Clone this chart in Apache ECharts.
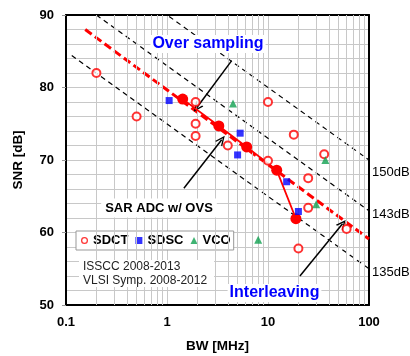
<!DOCTYPE html>
<html><head><meta charset="utf-8">
<script src="https://cdn.jsdelivr.net/npm/echarts@6/dist/echarts.min.js"></script>
<style>html,body{margin:0;padding:0;background:#fff}#c{width:410px;height:356px}</style>
</head><body><div id="c"></div>
<script>
// ---- data ----
const xTickLabels = ['0.1', '1', '10', '100'];
const yTickLabels = [50, 60, 70, 80, 90];
const minorX = [0.2,0.3,0.4,0.5,0.6,0.7,0.8,0.9,2,3,4,5,6,7,8,9,20,30,40,50,60,70,80,90];
const sdct = [[0.2,82],[0.5,76],[1.92,78],[1.92,75],[1.92,73.3],[4.0,72],[10,78],[10,69.9],[18,73.5],[25,67.5],[25,63.4],[36,70.8],[60,60.5],[20,57.8]];
const sdsc = [[1.05,78.2],[5.3,73.7],[5.0,70.7],[15.3,67],[20,62.9]];
const vco = [[4.5,77.8],[37,70],[30,63.9],[8,59]];
const ovs = [[1.43,78.4],[3.26,74.7],[6.15,71.8],[12.2,68.6],[18.9,61.9]];
const trend = [[0.155,88.0],[100,59.1]];
const fom150 = [[1.05,89.8],[100,70]];
const fom143 = [[0.2,90],[100,63]];
const fom135 = [[0.114,84.4],[100,55]];
const fomLabels = ['150dB','143dB','135dB'];
const arrowOver = [[4.37,83.7],[1.97,77.2]];
const arrowSar = [[1.47,66.1],[3.48,72.8]];
const arrowInter = [[20.7,54.0],[54.7,61.2]];
const seriesNames = ['SDCT','SDSC','VCO'];

const FONT = '"Liberation Sans", Arial, sans-serif';
const chart = echarts.init(document.getElementById('c'), null, {renderer:'canvas'});
const gridC = '#c8c8c8';
const chevron = 'path://M5,0 L10,10 L8.4,10 L5,3.2 L1.6,10 L0,10 Z';
const ring = 'path://M5,0 A5,5 0 1,1 4.99,0 Z M5,1.8 A3.2,3.2 0 1,0 5.01,1.8 Z';

function dashLine(data, name){
  return {type:'line', name:name, data:data, showSymbol:false, symbol:'none', silent:true, z:2,
    lineStyle:{color:'#000', width:1.2, type:[5,4]}};
}
function arrow(pts){
  return [{coord:pts[0]},{coord:pts[1]}];
}

chart.setOption({
  animation:false,
  textStyle:{fontFamily:FONT},
  grid:{left:66, right:41, top:15, bottom:51, containLabel:false, outerBoundsMode:'none'},
  xAxis:[{
    type:'log', logBase:10, min:0.1, max:100,
    name:'BW [MHz]', nameLocation:'middle', nameGap:34,
    nameTextStyle:{fontWeight:'bold', fontSize:13.5, color:'#000', fontFamily:FONT},
    axisLine:{show:true, onZero:false, lineStyle:{color:'#000', width:2}},
    axisTick:{show:false},
    axisLabel:{fontWeight:'bold', fontSize:13, color:'#000', margin:11, fontFamily:FONT,
      formatter:function(v){ const i = Math.round(Math.log10(v))+1; return xTickLabels[i]; }},
    splitLine:{show:true, lineStyle:{color:gridC, width:1}}
  },{
    type:'log', logBase:10, min:0.1, max:100, position:'top',
    axisLine:{show:true, onZero:false, lineStyle:{color:'#000', width:2}},
    axisTick:{show:false}, axisLabel:{show:false}, splitLine:{show:false}
  }],
  yAxis:[{
    type:'value', min:yTickLabels[0], max:yTickLabels[yTickLabels.length-1], interval:10,
    name:'SNR [dB]', nameLocation:'middle', nameGap:41, nameRotate:90,
    nameTextStyle:{fontWeight:'bold', fontSize:13.5, color:'#000', fontFamily:FONT},
    axisLine:{show:true, onZero:false, lineStyle:{color:'#000', width:2}},
    axisTick:{show:true, length:4, lineStyle:{color:'#999'}},
    axisLabel:{fontWeight:'bold', fontSize:13, color:'#000', margin:12, fontFamily:FONT},
    splitLine:{show:true, lineStyle:{color:gridC, width:1}},
    minorTick:{show:false, splitNumber:5},
    minorSplitLine:{show:true, lineStyle:{color:gridC, width:1}}
  },{
    type:'value', min:50, max:90, position:'right',
    axisLine:{show:true, onZero:false, lineStyle:{color:'#000', width:2}},
    axisTick:{show:false}, axisLabel:{show:false}, splitLine:{show:false}
  }],
  legend:{
    left:76, top:231, orient:'horizontal',
    backgroundColor:'#fff', borderColor:'#999', borderWidth:1, padding:[3,3,3,5],
    itemWidth:7, itemHeight:7, itemGap:7,
    textStyle:{fontWeight:'bold', fontSize:13, color:'#000', fontFamily:FONT},
    data:[
      {name:seriesNames[0], icon:ring, itemStyle:{color:'#ff0000', borderWidth:0}},
      {name:seriesNames[1], icon:'rect', itemStyle:{color:'#0000ff', borderWidth:0}},
      {name:seriesNames[2], icon:'triangle', itemStyle:{color:'#10a050', borderWidth:0}}]
  },
  series:[
    {type:'line', data:[], silent:true, z:1,
      markLine:{silent:true, symbol:['none','none'], label:{show:false}, animation:false,
        lineStyle:{color:gridC, width:1, type:'solid'},
        data:minorX.map(v=>({xAxis:v}))}},
    dashLine(fom150,'f150'), dashLine(fom143,'f143'), dashLine(fom135,'f135'),
    {type:'line', name:'trend', data:trend, showSymbol:false, symbol:'none', silent:true, z:3,
      lineStyle:{color:'#ff0000', width:3, type:[8,4]}},
    {type:'line', name:'OVS', data:ovs, symbol:'circle', symbolSize:11, showSymbol:true, z:5,
      itemStyle:{color:'#ff0000'}, lineStyle:{color:'#ff0000', width:1.8}},
    {type:'scatter', name:'SDCT', data:sdct, symbol:'emptyCircle', symbolSize:8, z:6,
      itemStyle:{color:'#ff0000', borderColor:'#ff0000', borderWidth:1.8}},
    {type:'scatter', name:'SDSC', data:sdsc, symbol:'rect', symbolSize:7, z:6,
      itemStyle:{color:'#0000ff'}},
    {type:'scatter', name:'VCO', data:vco, symbol:'triangle', symbolSize:8, z:6,
      itemStyle:{color:'#10a050'}},
    {type:'line', data:[], silent:true, z:7,
      markLine:{silent:true, symbol:['none', chevron], symbolSize:[9,10], label:{show:false}, animation:false,
        lineStyle:{color:'#000', width:1.5, type:'solid'},
        data:[arrow(arrowOver), arrow(arrowSar), arrow(arrowInter)]}}
  ],
  graphic:[
    {type:'text', x:208, y:44, z:100, style:{text:'Over sampling', font:'bold 16px '+FONT, fill:'#0000ff',
      align:'center', verticalAlign:'middle', textAlign:'center', textVerticalAlign:'middle', backgroundColor:'#fff', padding:[1,2]}},
    {type:'text', x:159, y:208, z:100, style:{text:'SAR ADC w/ OVS', font:'bold 13px '+FONT, fill:'#000',
      align:'center', verticalAlign:'middle', textAlign:'center', textVerticalAlign:'middle', backgroundColor:'#fff', padding:[3,4]}},
    {type:'text', x:274.5, y:293, z:100, style:{text:'Interleaving', font:'bold 16px '+FONT, fill:'#0000ff',
      align:'center', verticalAlign:'middle', textAlign:'center', textVerticalAlign:'middle', backgroundColor:'#fff', padding:[1,2]}},
    {type:'text', x:79, y:260, z:100, style:{text:'ISSCC 2008-2013\nVLSI Symp. 2008-2012', font:'12px '+FONT, fill:'#222',
      lineHeight:13.5, backgroundColor:'#fff', padding:[0,7,0,4]}},
    {type:'text', x:372, y:172, z:100, style:{text:fomLabels[0], font:'13px '+FONT, fill:'#000', verticalAlign:'middle', textVerticalAlign:'middle'}},
    {type:'text', x:372, y:214, z:100, style:{text:fomLabels[1], font:'13px '+FONT, fill:'#000', verticalAlign:'middle', textVerticalAlign:'middle'}},
    {type:'text', x:372, y:272.5, z:100, style:{text:fomLabels[2], font:'13px '+FONT, fill:'#000', verticalAlign:'middle', textVerticalAlign:'middle'}}
  ]
});
</script>
</body></html>
